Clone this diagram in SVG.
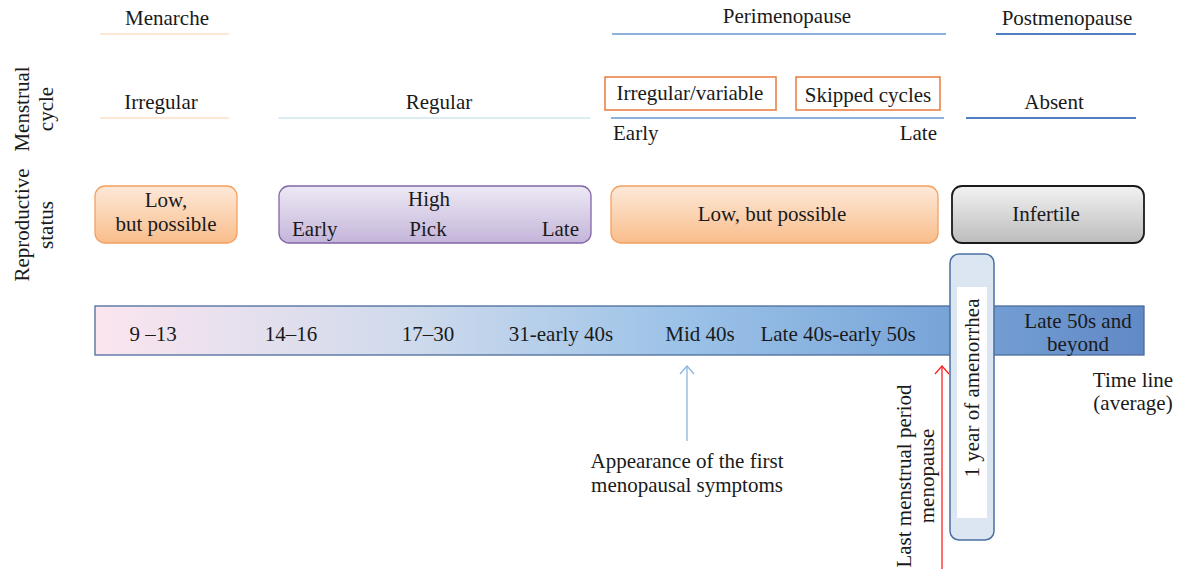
<svg xmlns="http://www.w3.org/2000/svg" width="1180" height="571" viewBox="0 0 1180 571">
<style>
text{font-family:"Liberation Serif","Times New Roman",serif;font-size:21px;fill:#1a1a1a}
.m{text-anchor:middle}
.e{text-anchor:end}
.pl{stroke-width:2;fill:none}
</style>
<defs>
<linearGradient id="gOr" x1="0" y1="0" x2="0" y2="1"><stop offset="0" stop-color="#fde9d9"/><stop offset="1" stop-color="#f9bd8b"/></linearGradient>
<linearGradient id="gPu" x1="0" y1="0" x2="0" y2="1"><stop offset="0" stop-color="#ede9f4"/><stop offset="1" stop-color="#c4b5da"/></linearGradient>
<linearGradient id="gGr" x1="0" y1="0" x2="0" y2="1"><stop offset="0" stop-color="#f2f2f2"/><stop offset="1" stop-color="#bcbcbc"/></linearGradient>
<linearGradient id="gTl" x1="0" y1="0" x2="1" y2="0"><stop offset="0" stop-color="#fbe5ef"/><stop offset="0.3" stop-color="#cfdaec"/><stop offset="0.55" stop-color="#9dc3e8"/><stop offset="0.78" stop-color="#7ca8da"/><stop offset="1" stop-color="#6189c6"/></linearGradient>
<marker id="ahB" markerWidth="16" markerHeight="16" refX="10" refY="8" orient="auto" markerUnits="userSpaceOnUse" viewBox="0 0 16 16"><path d="M2,1 L10,8 L2,15" fill="none" stroke="#8eb4e3" stroke-width="1.3"/></marker>
<marker id="ahR" markerWidth="16" markerHeight="16" refX="10" refY="8" orient="auto" markerUnits="userSpaceOnUse" viewBox="0 0 16 16"><path d="M2,1 L10,8 L2,15" fill="none" stroke="#ff1f1f" stroke-width="1.3"/></marker>
</defs>
<rect width="1180" height="571" fill="#ffffff"/>

<g id="row-labels">
<text class="m" transform="translate(29,109) rotate(-90)">Menstrual</text>
<text class="m" transform="translate(53,109) rotate(-90)">cycle</text>
<text class="m" transform="translate(29,225) rotate(-90)">Reproductive</text>
<text class="m" transform="translate(53,225) rotate(-90)">status</text>
</g>

<g id="menarche">
<text class="m" x="167" y="25">Menarche</text>
<line class="pl" x1="100" y1="34" x2="229" y2="34" stroke="#fde8d6"/>
</g>
<g id="perimenopause">
<text class="m" x="787" y="23">Perimenopause</text>
<line class="pl" x1="612" y1="34" x2="946" y2="34" stroke="#8eb0dc"/>
</g>
<g id="postmenopause">
<text class="m" x="1067" y="25">Postmenopause</text>
<line class="pl" x1="996" y1="34" x2="1136" y2="34" stroke="#4f7fbf"/>
</g>

<g id="irregular">
<text class="m" x="161" y="109">Irregular</text>
<line class="pl" x1="100" y1="118" x2="229" y2="118" stroke="#fde8d6"/>
</g>
<g id="regular">
<text class="m" x="439" y="109">Regular</text>
<line class="pl" x1="278" y1="118" x2="590" y2="118" stroke="#dbecf3"/>
</g>
<g id="irregular-variable">
<rect x="605" y="77" width="171" height="33" fill="#ffffff" stroke="#ea7a3c" stroke-width="1.5"/>
<text class="m" x="690" y="100">Irregular/variable</text>
</g>
<g id="skipped-cycles">
<rect x="796" y="77" width="144" height="33" fill="#ffffff" stroke="#ea7a3c" stroke-width="1.5"/>
<text class="m" x="868" y="102">Skipped cycles</text>
</g>
<g id="early-late">
<line class="pl" x1="611" y1="118" x2="944" y2="118" stroke="#8eb0dc"/>
<text x="613" y="140">Early</text>
<text class="e" x="937" y="140">Late</text>
</g>
<g id="absent">
<text class="m" x="1054" y="109">Absent</text>
<line class="pl" x1="966" y1="118" x2="1136" y2="118" stroke="#4f7fbf"/>
</g>

<g id="low-possible-1">
<rect x="95" y="186" width="142" height="57" rx="10" fill="url(#gOr)" stroke="#f4a060" stroke-width="1.3"/>
<text class="m" x="166" y="207">Low,</text>
<text class="m" x="166" y="231">but possible</text>
</g>
<g id="high">
<rect x="279" y="186" width="312" height="57" rx="10" fill="url(#gPu)" stroke="#8366a8" stroke-width="1.3"/>
<text class="m" x="429" y="206">High</text>
<text x="292" y="236">Early</text>
<text class="m" x="428" y="236">Pick</text>
<text class="e" x="579" y="236">Late</text>
</g>
<g id="low-possible-2">
<rect x="611" y="186" width="327" height="57" rx="10" fill="url(#gOr)" stroke="#f4a060" stroke-width="1.3"/>
<text class="m" x="772" y="221">Low, but possible</text>
</g>
<g id="infertile">
<rect x="952" y="186" width="192" height="57" rx="10" fill="url(#gGr)" stroke="#1a1a1a" stroke-width="1.8"/>
<text class="m" x="1046" y="221">Infertile</text>
</g>

<g id="timeline">
<rect x="95" y="306" width="1049" height="49" fill="url(#gTl)" stroke="#4c6c9c" stroke-width="1.3"/>
<text class="m" x="153" y="341">9 –13</text>
<text class="m" x="291" y="341">14–16</text>
<text class="m" x="428" y="341">17–30</text>
<text class="m" x="561" y="341">31-early 40s</text>
<text class="m" x="700" y="341">Mid 40s</text>
<text class="m" x="838" y="341">Late 40s-early 50s</text>
<text class="m" x="1078" y="328">Late 50s and</text>
<text class="m" x="1078" y="351">beyond</text>
</g>
<g id="timeline-label">
<text class="m" x="1133" y="387">Time line</text>
<text class="m" x="1133" y="410">(average)</text>
</g>

<g id="amenorrhea">
<rect x="950" y="254" width="44" height="286" rx="9" fill="#dce6f2" stroke="#4a6fa0" stroke-width="1.5"/>
<rect x="957" y="287" width="30" height="231" fill="#ffffff"/>
<text class="m" transform="translate(979,388) rotate(-90)">1 year of amenorrhea</text>
</g>

<g id="connectors">
<line x1="687" y1="441" x2="687" y2="366" stroke="#8eb4e3" stroke-width="1.3" marker-end="url(#ahB)"/>
<line x1="942" y1="569" x2="942" y2="366" stroke="#ff1f1f" stroke-width="1.3" marker-end="url(#ahR)"/>
</g>

<g id="first-symptoms">
<text class="m" x="687" y="468">Appearance of the first</text>
<text class="m" x="687" y="492">menopausal symptoms</text>
</g>
<g id="last-period">
<text class="m" transform="translate(911,476) rotate(-90)">Last menstrual period</text>
<text class="m" transform="translate(934,476) rotate(-90)">menopause</text>
</g>
</svg>
